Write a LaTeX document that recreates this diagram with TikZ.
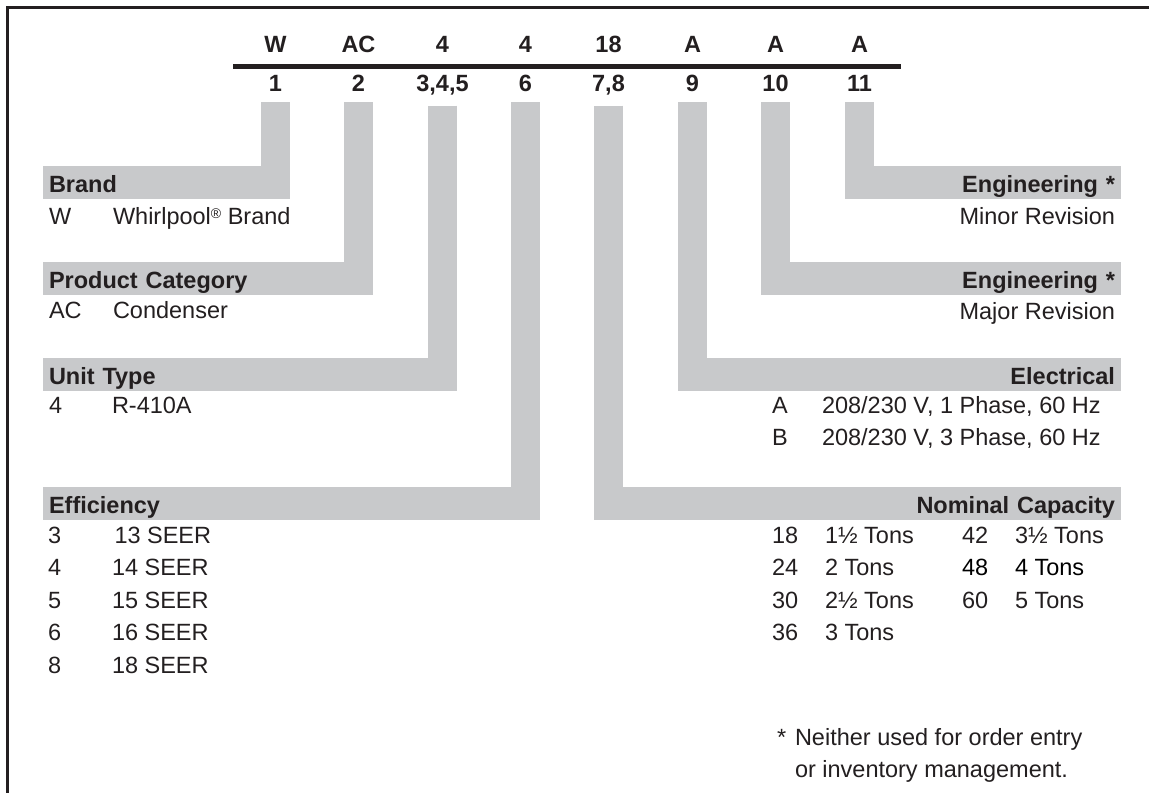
\documentclass[tikz,border=0pt]{standalone}
\usepackage{fontspec}
\setmainfont{Liberation Sans}
\definecolor{txt}{HTML}{231F20}
\definecolor{barg}{RGB}{200,201,203}
\begin{document}
\begin{tikzpicture}[x=1pt,y=-1pt,
  every node/.style={inner sep=0pt, outer sep=0pt, text=txt},
  body/.style={font=\fontsize{23.5}{28}\selectfont},
  bold/.style={font=\fontsize{23.5}{28}\selectfont\bfseries},
  hdr/.style={fill=barg, bold, text height=26pt, text depth=7pt, inner xsep=6pt, inner ysep=0pt},
  hdrL/.style={hdr, align=left, anchor=north west},
  hdrR/.style={hdr, align=right, anchor=north east},
  bar/.style={draw=barg, line width=29pt},
  codetxt/.style={bold, anchor=base},
  lt/.style={body, anchor=base west},
  rt/.style={body, anchor=base east},
  rule/.style={draw=txt, line width=5pt},
  frame/.style={draw=txt, line width=3pt},
]
\useasboundingbox (0,0) rectangle (1149,793);
\fill[white] (0,0) rectangle (1149,793);

% frame (top and left edges)
\coordinate (fTR) at (1149,7.5);
\coordinate (fTL) at (7.5,7.5);
\coordinate (fBL) at (7.5,793);
\draw[frame] (fTR) -- (fTL) -- (fBL);

% code letters and positions
\foreach \i/\x/\c/\n in {1/275.5/W/1, 2/358.5/AC/2, 3/442.5/4/{3,4,5}, 4/525.5/4/6,
                          5/608.5/18/{7,8}, 6/692.5/A/9, 7/775.5/A/10, 8/859.5/A/11}{
  \node[codetxt] (c\i) at (\x,52) {\c};
  \node[codetxt] (n\i) at (\x,91) {\n};
}
\coordinate (rl) at (233,66.5);
\coordinate (rr) at (901,66.5);
\draw[rule] (rl) -- (rr);

% header bands, left
\node[hdrL, text width=235pt] (hBrand) at (43,166) {Brand};
\node[hdrL, text width=318pt] (hCat)   at (43,262) {Product Category};
\node[hdrL, text width=402pt] (hType)  at (43,358) {Unit Type};
\node[hdrL, text width=485pt] (hEff)   at (43,487) {Efficiency};
% header bands, right
\node[hdrR, text width=264pt] (hEng11) at (1121,166) {Engineering *};
\node[hdrR, text width=348pt] (hEng10) at (1121,262) {Engineering *};
\node[hdrR, text width=431pt] (hElec)  at (1121,358) {Electrical};
\node[hdrR, text width=515pt] (hNom)   at (1121,487) {Nominal Capacity};

% connecting bars
\draw[bar] ([yshift=-11pt]n1.south) -- (n1.south |- hBrand.north);
\draw[bar] ([yshift=-11pt]n2.south) -- (n2.south |- hCat.north);
\draw[bar] ([yshift=-11pt]n3.south) -- (n3.south |- hType.north);
\draw[bar] ([yshift=-11pt]n4.south) -- (n4.south |- hEff.north);
\draw[bar] ([yshift=-11pt]n5.south) -- (n5.south |- hNom.north);
\draw[bar] ([yshift=-11pt]n6.south) -- (n6.south |- hElec.north);
\draw[bar] ([yshift=-11pt]n7.south) -- (n7.south |- hEng10.north);
\draw[bar] ([yshift=-11pt]n8.south) -- (n8.south |- hEng11.north);

% left body text
\node[lt] (bW)  at (49,224) {W};
\node[lt] (bWd) at (113,224) {Whirlpool{\fontsize{14}{14}\selectfont\raisebox{6pt}{®}} Brand};
\node[lt] (bAC) at (49,318) {AC};
\node[lt] (bACd) at (113,318) {Condenser};
\node[lt] (bT)  at (49,413) {4};
\node[lt] (bTd) at (112,413) {R-410A};
\node[lt] (e1) at (48,543) {3};   \node[lt] (e1d) at (114.5,543) {13 SEER};
\node[lt] (e2) at (48,575.5) {4}; \node[lt] (e2d) at (112,575.5) {14 SEER};
\node[lt] (e3) at (48,608) {5};   \node[lt] (e3d) at (112,608) {15 SEER};
\node[lt] (e4) at (48,640.5) {6}; \node[lt] (e4d) at (112,640.5) {16 SEER};
\node[lt] (e5) at (48,673) {8};   \node[lt] (e5d) at (112,673) {18 SEER};

% right body text
\node[rt] (rMin) at (1115,224) {Minor Revision};
\node[rt] (rMaj) at (1115,319) {Major Revision};
\node[lt] (elA)  at (772,413) {A};
\node[lt] (elAd) at (822,413) {208/230 V, 1 Phase, 60 Hz};
\node[lt] (elB)  at (772,445) {B};
\node[lt] (elBd) at (822,445) {208/230 V, 3 Phase, 60 Hz};

\node[lt] (k1) at (772,543) {18};    \node[lt] (k1d) at (825,543) {1½ Tons};
\node[lt] (k2) at (772,575.5) {24};  \node[lt] (k2d) at (825,575.5) {2 Tons};
\node[lt] (k3) at (772,608) {30};    \node[lt] (k3d) at (825,608) {2½ Tons};
\node[lt] (k4) at (772,640.5) {36};  \node[lt] (k4d) at (825,640.5) {3 Tons};
\node[lt] (k5) at (962,543) {42};    \node[lt] (k5d) at (1015,543) {3½ Tons};
\node[lt, text=black] (k6) at (962,575.5) {48};  \node[lt, text=black] (k6d) at (1015,575.5) {4 Tons};
\node[lt] (k7) at (962,608) {60};    \node[lt] (k7d) at (1015,608) {5 Tons};

% footnote
\node[lt] (fs) at (777,745) {*};
\node[lt] (f1) at (795,745) {Neither used for order entry};
\node[lt] (f2) at (795,777) {or inventory management.};
\end{tikzpicture}
\end{document}
